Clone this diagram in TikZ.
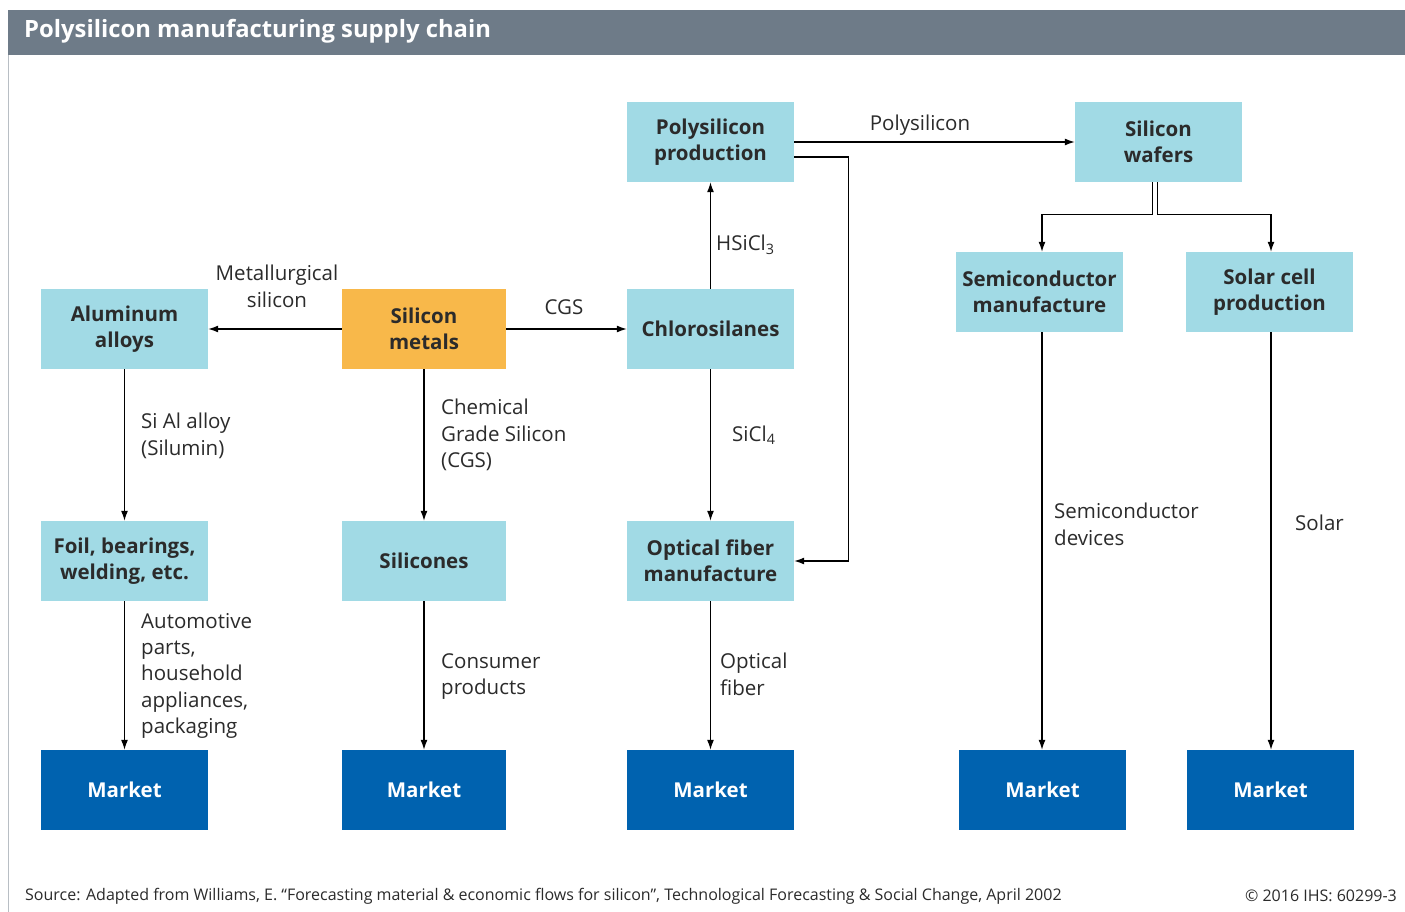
\documentclass[tikz,border=0pt]{standalone}
\usepackage{fontspec}
\setmainfont{Open Sans}
\usetikzlibrary{arrows.meta}
\definecolor{boxc}{HTML}{A1DAE5}
\definecolor{orangec}{HTML}{F8B84A}
\definecolor{marketc}{HTML}{0062AF}
\definecolor{titlec}{HTML}{6E7B88}
\definecolor{txtc}{HTML}{2B2B2B}
\definecolor{borderc}{HTML}{B8BEC4}
\begin{document}
\begin{tikzpicture}[x=1pt,y=-1pt,
  box/.style={fill=boxc, minimum width=167pt, minimum height=80pt, inner sep=0pt, align=center, text=txtc, font=\fontsize{20.5}{26.5}\selectfont\bfseries},
  obox/.style={box, fill=orangec, minimum width=164pt},
  mbox/.style={box, fill=marketc, text=white},
  lbl/.style={anchor=north west, align=left, inner sep=0pt, text=txtc, font=\fontsize{20.5}{26.3}\selectfont},
  arr/.style={draw=black, line width=1.3pt, -{Latex[length=10pt,width=7pt]}},
  ln/.style={draw=black, line width=1.3pt}]
\useasboundingbox (0,0) rectangle (1405,912);
\fill[white] (0,0) rectangle (1405,912);
\fill[titlec] (8,10) rectangle (1405,55);
\draw[borderc, line width=1pt] (8,55) -- (8,912);
\node[anchor=west, inner sep=0pt, text=white, font=\fontsize{23.8}{26}\selectfont\bfseries] (title) at (24,31) {Polysilicon manufacturing supply chain};

% boxes
\node[box] (pp) at (710.5,142) {Polysilicon\\production};
\node[box] (sw) at (1158.5,142) {Silicon\\wafers};
\node[box] (semi) at (1039.5,292) {Semiconductor\\manufacture};
\node[box] (solar) at (1269.5,292) {Solar cell\\production};
\node[box] (al) at (124.5,329) {Aluminum\\alloys};
\node[obox] (sm) at (424,329) {Silicon\\metals};
\node[box] (cl) at (710.5,329) {Chlorosilanes};
\node[box] (foil) at (124.5,561) {Foil, bearings,\\welding, etc.};
\node[box, minimum width=164pt] (sil) at (424,561) {Silicones};
\node[box] (of) at (710.5,561) {Optical fiber\\manufacture};
\node[mbox] (m1) at (124.5,790) {Market};
\node[mbox, minimum width=164pt] (m2) at (424,790) {Market};
\node[mbox] (m3) at (710.5,790) {Market};
\node[mbox] (m4) at (1042.5,790) {Market};
\node[mbox] (m5) at (1270.5,790) {Market};

% connectors
\draw[arr] (pp.east) -- (sw.west);
\draw[arr] ([yshift=-15pt]pp.east) -- ++(54,0) |- (of.east);
\draw[arr] (cl.north) -- (pp.south);
\draw[arr] (cl.south) -- (of.north);
\draw[arr] (sm.east) -- (cl.west);
\draw[arr] (sm.west) -- (al.east);
\draw[arr] (sm.south) -- (sil.north);
\draw[arr] (al.south) -- (foil.north);
\draw[arr] (foil.south) -- (m1.north);
\draw[arr] (sil.south) -- (m2.north);
\draw[arr] (of.south) -- (m3.north);
\draw[arr] ([xshift=-6pt]sw.south) -- ++(0,32) -| ([xshift=2.5pt]semi.north);
\draw[arr] ([xshift=-1pt]sw.south) -- ++(0,32) -| ([xshift=1.5pt]solar.north);
\draw[arr] ([xshift=2.5pt]semi.south) -- ([xshift=-0.5pt]m4.north);
\draw[arr] ([xshift=1.5pt]solar.south) -- ([xshift=0.5pt]m5.north);

% labels
\node[lbl, anchor=north] (lpoly) at (920,115) {Polysilicon};
\node[lbl] (lhs) at (716,235) {HSiCl\textsubscript{3}};
\node[lbl] (lsic) at (732,426) {SiCl\textsubscript{4}};
\node[lbl, anchor=north] (lcgs) at (564,299) {CGS};
\node[lbl, anchor=north, align=center] (lmet) at (277,265) {Metallurgical\\silicon};
\node[lbl] (lchem) at (441,399) {Chemical\\Grade Silicon\\(CGS)};
\node[lbl] (lsial) at (141,413) {Si Al alloy\\(Silumin)};
\node[lbl] (lauto) at (141,613) {Automotive\\parts,\\household\\appliances,\\packaging};
\node[lbl] (lcons) at (441,653) {Consumer\\products};
\node[lbl] (lopt) at (720,653) {Optical\\fiber};
\node[lbl] (lsemi) at (1054,503) {Semiconductor\\devices};
\node[lbl] (lsol) at (1295,515) {Solar};

% footer
\node[anchor=west, inner sep=0pt, text=txtc, font=\fontsize{16}{18}\selectfont] (src) at (25,896) {Source: Adapted from Williams, E. “Forecasting material \& economic flows for silicon”, Technological Forecasting \& Social Change, April 2002};
\node[anchor=east, inner sep=0pt, text=txtc, font=\fontsize{16}{18}\selectfont] (copy) at (1397,896) {© 2016 IHS: 60299-3};
\end{tikzpicture}
\end{document}
